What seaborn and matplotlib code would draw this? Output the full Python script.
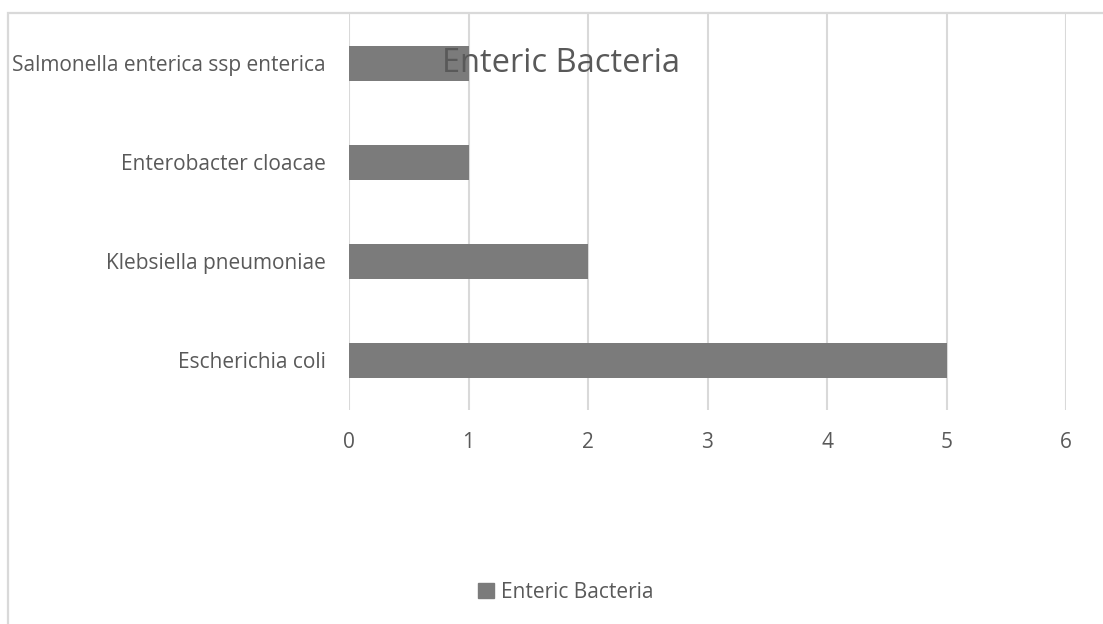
import matplotlib
matplotlib.use("Agg")
import matplotlib.pyplot as plt
import seaborn as sns
import pandas as pd
from matplotlib.patches import Rectangle

categories = ["Salmonella enterica ssp enterica", "Enterobacter cloacae",
              "Klebsiella pneumoniae", "Escherichia coli"]
counts = [1, 1, 2, 5]
series_name = "Enteric Bacteria"
x_ticks = [0, 1, 2, 3, 4, 5, 6]

sns.set_theme(style="white")
plt.rcParams["font.family"] = ["Open Sans", "DejaVu Sans"]

text_color = "#595959"
grid_color = "#d9d9d9"
bar_color = "#7b7b7b"

df = pd.DataFrame({"organism": categories, "count": counts})

W, H = 1103, 624
fig = plt.figure(figsize=(W / 100, H / 100), dpi=100)
ax = fig.add_axes([349 / W, 1 - 410 / H, (1066 - 349) / W, (410 - 14) / H])

sns.barplot(data=df, y="organism", x="count", order=categories,
            color=bar_color, saturation=1, width=0.36, ax=ax, zorder=3,
            linewidth=0)

ax.set_xlim(0, 6)
ax.set_ylim(3.5, -0.5)
ax.set_xticks(x_ticks)
ax.set_xticklabels([str(t) for t in x_ticks])
ax.grid(axis="x", color=grid_color, linewidth=1.5, zorder=0)
ax.grid(axis="y", visible=False)
for s in ax.spines.values():
    s.set_visible(False)
ax.tick_params(axis="both", length=0, colors=text_color, labelsize=15)
ax.tick_params(axis="x", pad=16)
ax.tick_params(axis="y", pad=17)
ax.set_xlabel("")
ax.set_ylabel("")

# outer chart frame
fig.patches.append(Rectangle((7.5 / W, -0.1), 1.2, 1 - 13.5 / H + 0.1,
                             transform=fig.transFigure, fill=False,
                             edgecolor=grid_color, linewidth=1.6))

fig.text(561 / W, 1 - 63 / H, series_name, ha="center", va="center",
         fontsize=23.5, color=text_color)

handle = Rectangle((0, 0), 1, 1, color=bar_color)
fig.legend([handle], [series_name], loc="center", bbox_to_anchor=(566 / W, 1 - 592 / H),
           frameon=False, fontsize=15, labelcolor=text_color,
           handlelength=0.75, handleheight=0.75, handletextpad=0.35)

fig.savefig("out.png", dpi=100)
